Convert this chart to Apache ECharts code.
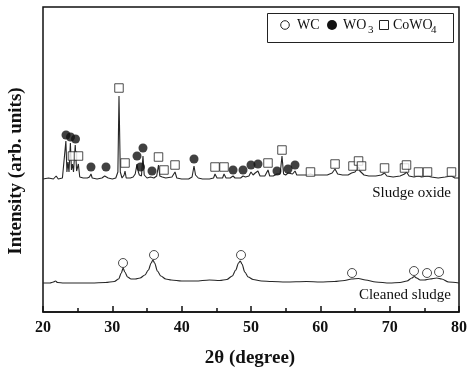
<!DOCTYPE html>
<html>
<head>
<meta charset="utf-8">
<script src="https://cdn.jsdelivr.net/npm/echarts@6/dist/echarts.min.js"></script>
<style>html,body{margin:0;padding:0;background:#fff;}#c{width:473px;height:371px;}</style>
</head>
<body>
<div id="c"></div>
<script>
// 2θ (degree) vs intensity (arb. units)
const sludgeOxide = [
  [20,133],[20.8,134],[21.5,133],[21.9,136],[22.2,133],[22.8,134],[23.0,136],[23.3,171],[23.45,140],
  [23.6,150],[23.75,140],[23.95,169],[24.1,142],[24.25,148],[24.4,140],[24.65,167],[24.85,141],
  [25.1,148],[25.3,135],[25.8,134],[26.4,134],[26.7,135],[26.92,138],[27.1,134],[27.8,133],[28.5,134],
  [28.9,136],[29.09,138],[29.4,134],[30.0,133],[30.5,134],[30.8,140],[30.96,216],[31.15,140],[31.4,134],
  [31.7,137],[31.83,141],[32.0,134],[32.6,134],[33.0,135],[33.3,138],[33.56,148],[33.75,140],[33.9,137],
  [34.06,139],[34.2,136],[34.42,156],[34.6,137],[35.0,134],[35.5,135],[35.72,137],[36.0,134],[36.4,136],
  [36.66,147],[36.85,136],[37.2,135],[37.45,137],[37.7,134],[38.6,135],[39.04,140],[39.3,134],[40,133],
  [41,133],[41.5,135],[41.78,146],[42.0,137],[42.4,134],[43,133],[44,133],[44.6,134],[44.81,138],
  [45.1,134],[45.9,134],[46.11,138],[46.4,134],[47.0,134],[47.41,136],[47.7,134],[48.5,134],[48.85,136],
  [49.2,135],[49.7,136],[50.0,140],[50.3,137],[50.6,139],[51.0,141],[51.3,136],[52.0,136],[52.45,142],
  [52.7,136],[53.2,136],[53.75,138],[54.0,136],[54.2,138],[54.47,156],[54.7,138],[55.0,137],[55.34,139],
  [55.6,137],[56.0,138],[56.35,141],[56.6,137],[57.2,137],[58,137],[58.58,138],[59,137],[60,137],[61,137],
  [61.7,139],[62.12,143],[62.5,138],[63.2,137],[64.0,137],[64.5,139],[64.71,141],[65.0,140],[65.51,145],
  [65.7,141],[65.94,140],[66.3,137],[67,136],[68,136],[68.8,137],[69.26,139],[69.6,136],[70.5,135],
  [71.5,136],[72.14,138],[72.43,140],[72.8,136],[73.5,135],[74.16,136],[74.6,135],[75.46,136],[76,135],
  [77,134],[78,135],[78.92,136],[79.4,134],[80,134]
];
const cleanedSludge = [
  [20,29],[21,29],[21.5,30],[21.8,31],[22.1,29.5],[23,29],[25,29],[27,29],[29,29.5],[30.3,30.5],
  [30.9,33],[31.3,39],[31.55,44],[31.8,40],[32.2,35],[32.7,33],[33.3,33],[34.0,34],[34.7,37],[35.2,42],
  [35.6,49],[35.85,52],[36.1,49],[36.5,41],[37.0,36],[37.7,33],[38.5,32],[40,31],[42,31],[44,32],
  [45.5,31.5],[46.5,32.5],[47.3,36],[47.8,42],[48.2,49],[48.45,51],[48.7,48],[49.1,40],[49.6,35],
  [50.3,32.5],[51.5,31],[53,30.5],[55,30],[58,30.5],[60,30],[62,30.5],[63.5,31.5],[64.5,33],[65.5,33.5],
  [66.5,32],[68,30],[70,29],[71.5,29.5],[72.5,31],[73.2,34],[73.55,35.5],[73.9,34],[74.4,32],[75.0,32],
  [75.8,33],[76.8,34],[77.5,33],[78.5,30],[80,29]
];
const wcMarks = [[31.54,49],[36.01,57],[48.56,57],[64.57,39],[73.51,41],[75.39,39],[77.12,40]];
const wo3Marks = [[23.32,177],[23.97,175],[24.69,173],[26.92,145],[29.09,145],[33.56,156],[34.42,164],
  [34.06,145],[35.72,141],[41.78,153],[47.41,142],[48.85,142],[50.0,147],[51.01,148],[53.75,141],
  [55.34,143],[56.35,147]];
const cowo4Marks = [[24.25,156],[25.12,156],[30.96,224],[31.83,149],[36.66,155],[37.45,142],[39.04,147],
  [44.81,145],[46.11,145],[52.45,149],[54.47,162],[58.58,140],[62.12,148],[64.71,146],[65.51,151],
  [65.94,146],[69.26,144],[72.14,144],[72.43,147],[74.16,140],[75.46,140],[78.92,140]];
const xTickLabels = ['20','30','40','50','60','70','80'];

const serif = '"Liberation Serif", "DejaVu Serif", serif';
const chart = echarts.init(document.getElementById('c'));
chart.setOption({
  animation: false,
  backgroundColor: '#fff',
  grid: { left: 43, top: 7, width: 416, height: 305, show: true, borderColor: '#111', borderWidth: 1.5 },
  xAxis: {
    type: 'value', min: 20, max: 80, interval: 10,
    axisLine: { show: true, lineStyle: { color: '#111', width: 1.5 } },
    axisTick: { show: true, inside: true, length: 6, lineStyle: { color: '#111', width: 1.5 } },
    minorTick: { show: true, splitNumber: 2, length: 4, lineStyle: { color: '#111', width: 1.5 } },
    splitLine: { show: false },
    axisLabel: {
      margin: 8, fontFamily: serif, fontWeight: 'bold', fontSize: 16, color: '#111',
      formatter: function (v) { const s = String(Math.round(v)); return xTickLabels.indexOf(s) >= 0 ? s : ''; }
    }
  },
  yAxis: { type: 'value', min: 0, max: 305, show: false },
  series: [
    { type: 'line', data: sludgeOxide, showSymbol: false, lineStyle: { color: '#262626', width: 1.1 }, z: 2 },
    { type: 'line', data: cleanedSludge, showSymbol: false, smooth: 0.3, smoothMonotone: 'x',
      lineStyle: { color: '#262626', width: 1.1 }, z: 2 },
    { type: 'scatter', data: wcMarks, symbol: 'circle', symbolSize: 9,
      itemStyle: { color: '#fff', borderColor: '#222', borderWidth: 1 }, z: 3 },
    { type: 'scatter', data: wo3Marks, symbol: 'circle', symbolSize: 9,
      itemStyle: { color: '#111', borderColor: '#111', borderWidth: 0 }, z: 3 },
    { type: 'scatter', data: cowo4Marks, symbol: 'rect', symbolSize: 8.5,
      itemStyle: { color: '#fff', borderColor: '#222', borderWidth: 1 }, z: 3 }
  ],
  graphic: [
    { type: 'text', x: 16, y: 171, rotation: Math.PI / 2,
      style: { text: 'Intensity (arb. units)', fontFamily: serif, fontWeight: 'bold', fontSize: 19,
        fill: '#111', align: 'center', verticalAlign: 'middle' } },
    { type: 'text', x: 250, y: 358,
      style: { text: '2θ (degree)', fontFamily: serif, fontWeight: 'bold', fontSize: 19,
        fill: '#111', align: 'center', verticalAlign: 'middle' } },
    { type: 'text', x: 451, y: 193,
      style: { text: 'Sludge oxide', fontFamily: serif, fontSize: 15, fill: '#111', align: 'right', verticalAlign: 'middle' } },
    { type: 'text', x: 451, y: 295,
      style: { text: 'Cleaned sludge', fontFamily: serif, fontSize: 15, fill: '#111', align: 'right', verticalAlign: 'middle' } },
    { type: 'rect', shape: { x: 267.5, y: 13.5, width: 186, height: 29 },
      style: { fill: '#fff', stroke: '#222', lineWidth: 1 } },
    { type: 'circle', shape: { cx: 285, cy: 25, r: 4.3 }, style: { fill: '#fff', stroke: '#222', lineWidth: 1 } },
    { type: 'text', x: 297, y: 25, style: { text: 'WC', fontFamily: serif, fontSize: 14, fill: '#111', verticalAlign: 'middle' } },
    { type: 'circle', shape: { cx: 332, cy: 25, r: 5 }, style: { fill: '#111' } },
    { type: 'text', x: 343, y: 25, style: { text: 'WO', fontFamily: serif, fontSize: 14, fill: '#111', verticalAlign: 'middle' } },
    { type: 'text', x: 368, y: 30, style: { text: '3', fontFamily: serif, fontSize: 11, fill: '#111', verticalAlign: 'middle' } },
    { type: 'rect', shape: { x: 379.5, y: 20.5, width: 9, height: 9 }, style: { fill: '#fff', stroke: '#222', lineWidth: 1 } },
    { type: 'text', x: 393, y: 25, style: { text: 'CoWO', fontFamily: serif, fontSize: 14, fill: '#111', verticalAlign: 'middle' } },
    { type: 'text', x: 431, y: 30, style: { text: '4', fontFamily: serif, fontSize: 11, fill: '#111', verticalAlign: 'middle' } }
  ]
});
</script>
</body>
</html>
